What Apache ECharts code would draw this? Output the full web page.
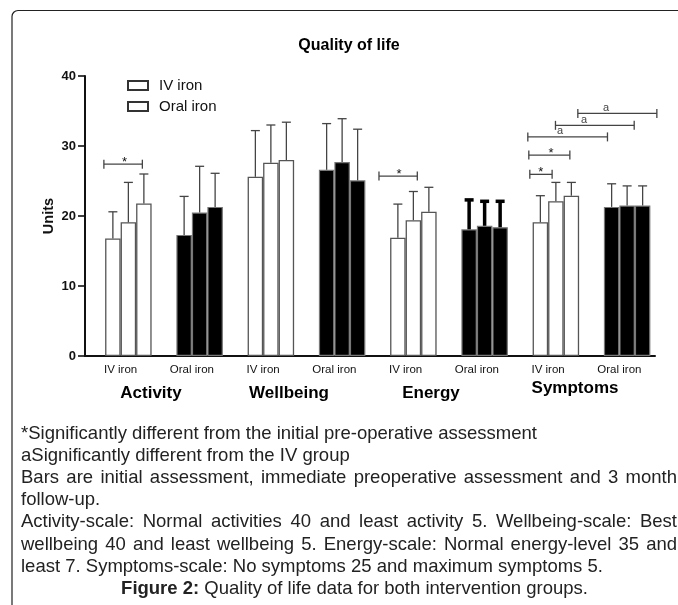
<!DOCTYPE html>
<html>
<head>
<meta charset="utf-8">
<script src="https://cdn.jsdelivr.net/npm/echarts@6/dist/echarts.min.js"></script>
<style>
html,body{margin:0;padding:0;background:#fff;}
#c{width:678px;height:605px;}
</style>
</head>
<body>
<div id="c"></div>
<script>
// ---- data ----
const categories = ['IV iron','Oral iron','IV iron','Oral iron','IV iron','Oral iron','IV iron','Oral iron'];
const domains = ['Activity','Wellbeing','Energy','Symptoms'];
const yTicks = [0,10,20,30,40];
// means: initial, immediate pre-op, 3-month follow-up
const initial  = [16.8, 17.3, 25.6, 26.6, 16.9, 18.1, 19.1, 21.3];
const preop    = [19.1, 20.5, 27.6, 27.7, 19.4, 18.6, 22.1, 21.5];
const followup = [21.8, 21.3, 28.0, 25.1, 20.6, 18.4, 22.9, 21.5];
// standard deviations (upper error bars)
const initialSD  = [3.8, 5.5, 6.6, 6.6, 4.8, 4.2, 3.8, 3.3];
const preopSD    = [5.7, 6.6, 5.4, 6.2, 4.1, 3.5, 2.7, 2.8];
const followupSD = [4.2, 4.8, 5.4, 7.3, 3.5, 3.7, 1.9, 2.8];
// significance brackets: [category, from (cat widths), to (cat widths), value]
const brackets = [
  [0, -0.235, 0.305, 27.4],
  [4, -0.374, 0.164, 25.7],
  [6, -0.257, 0.056, 25.95],
  [6, -0.271, 0.305, 28.7],
  [6, -0.285, 0.833, 31.3],
  [6,  0.103, 1.208, 32.95],
  [6,  0.417, 1.526, 34.65]
];
const bracketLabels = ['*','*','*','*','a','a','a'];
const bracketLabelX = [0.056, -0.094, -0.102, 0.042, 0.168, 0.505, 0.814];
const captionLines = [
  '*Significantly different from the initial pre-operative assessment',
  'aSignificantly different from the IV group',
  'Bars are initial assessment, immediate preoperative assessment and 3 month',
  'follow-up.',
  'Activity-scale: Normal activities 40 and least activity 5. Wellbeing-scale: Best',
  'wellbeing 40 and least wellbeing 5. Energy-scale: Normal energy-level 35 and',
  'least 7. Symptoms-scale: No symptoms 25 and maximum symptoms 5.'
];
const justified = [false,false,true,false,true,true,false];

// ---- drawing ----
const FONT = '"Liberation Sans", Arial, Helvetica, sans-serif';
const BAR_W = 15.5;
const chart = echarts.init(document.getElementById('c'), null, {renderer:'canvas'});

function barData(arr){
  return arr.map((v,i)=>({
    value: v,
    itemStyle: i%2===0
      ? {color:'#fff', borderColor:'#555', borderWidth:1.3}
      : {color:'#000', borderColor:'#777', borderWidth:1.2}
  }));
}
const errData = [];
[[initial,initialSD],[preop,preopSD],[followup,followupSD]].forEach((pair,s)=>{
  pair[0].forEach((m,i)=>errData.push([i, s, m, pair[1][i]]));
});

// caption graphics
const measureCtx = document.createElement('canvas').getContext('2d');
const CAP_SIZE = 18.5;
measureCtx.font = CAP_SIZE + 'px ' + FONT;
const capLeft = 21, capRight = 677, capTop = 434, capStep = 22.1;
const graphics = [];
graphics.push({type:'rect', silent:true, shape:{x:12, y:10.5, width:900, height:900, r:6},
  style:{fill:'none', stroke:'#222', lineWidth:1.2}});
graphics.push({type:'text', x:349, y:46, style:{text:'Quality of life', fontFamily:FONT, fontSize:16, fontWeight:'bold', fill:'#000', align:'center', verticalAlign:'middle'}});
graphics.push({type:'text', x:49, y:216, rotation:Math.PI/2, style:{text:'Units', fontFamily:FONT, fontSize:14.5, fontWeight:'bold', fill:'#111', align:'center', verticalAlign:'middle'}});
const domainPos = [[151,393],[289,393],[431,393],[575,388]];
domains.forEach((d,i)=>graphics.push({type:'text', x:domainPos[i][0], y:domainPos[i][1],
  style:{text:d, fontFamily:FONT, fontSize:17, fontWeight:'bold', fill:'#000', align:'center', verticalAlign:'middle'}}));
captionLines.forEach((line,i)=>{
  const y = capTop + capStep*i;
  const st = {fontFamily:FONT, fontSize:CAP_SIZE, fill:'#222', verticalAlign:'middle', align:'left'};
  if(!justified[i]){
    graphics.push({type:'text', x:capLeft, y:y, style:Object.assign({text:line}, st)});
  } else {
    const words = line.split(' ');
    const widths = words.map(w=>measureCtx.measureText(w).width);
    const total = widths.reduce((a,b)=>a+b,0);
    const gap = (capRight - capLeft - total)/(words.length-1);
    let x = capLeft;
    words.forEach((w,k)=>{
      graphics.push({type:'text', x:x, y:y, style:Object.assign({text:w}, st)});
      x += widths[k] + gap;
    });
  }
});
graphics.push({type:'text', x:354.5, y:capTop+capStep*7, style:{
  text:'{b|Figure 2:} Quality of life data for both intervention groups.',
  fontFamily:FONT, fontSize:CAP_SIZE, fill:'#222', align:'center', verticalAlign:'middle',
  rich:{b:{fontFamily:FONT, fontSize:CAP_SIZE, fontWeight:'bold', fill:'#222'}}}});

const option = {
  animation:false,
  backgroundColor:'#fff',
  grid:{left:85, right:23, top:76, bottom:249, containLabel:false},
  legend:{
    data:['IV iron','Oral iron'], orient:'vertical', left:127, top:78, padding:0,
    itemWidth:20, itemHeight:9, itemGap:6, icon:'rect', selectedMode:false,
    textStyle:{fontFamily:FONT, fontSize:15, color:'#111', padding:[0,0,0,6]}
  },
  xAxis:[
    {type:'category', data:categories, boundaryGap:true,
     axisLine:{lineStyle:{color:'#111', width:2}},
     axisTick:{alignWithLabel:true, length:5, lineStyle:{color:'#111', width:1.5}},
     axisLabel:{fontFamily:FONT, fontSize:11.5, color:'#111', margin:8, interval:0}},
    {type:'category', data:categories, show:false}
  ],
  yAxis:{type:'value', min:yTicks[0], max:yTicks[yTicks.length-1], interval:10,
    axisLine:{show:true, lineStyle:{color:'#111', width:2}},
    axisTick:{show:true, length:7, lineStyle:{color:'#111', width:1.6}},
    axisLabel:{fontFamily:FONT, fontSize:13, fontWeight:'bold', color:'#111', margin:9},
    splitLine:{show:false}},
  series:[
    {name:'pad', type:'bar', barWidth:BAR_W, barGap:'0%', silent:true, data:categories.map(()=>null)},
    {name:'Initial assessment', type:'bar', barWidth:BAR_W, barGap:'0%', data:barData(initial)},
    {name:'Immediate preoperative', type:'bar', barWidth:BAR_W, barGap:'0%', data:barData(preop)},
    {name:'3 month follow-up', type:'bar', barWidth:BAR_W, barGap:'0%', data:barData(followup)},
    {name:'IV iron', type:'bar', xAxisIndex:1, data:[], itemStyle:{color:'#fff', borderColor:'#333', borderWidth:1}},
    {name:'Oral iron', type:'bar', xAxisIndex:1, data:[], itemStyle:{color:'#fff', borderColor:'#333', borderWidth:1}},
    {name:'SD', type:'custom', data:errData, encode:{x:0, y:2}, z:5, silent:true,
     renderItem:function(params, api){
       const cat = api.value(0), slot = api.value(1), mean = api.value(2), sd = api.value(3);
       const p0 = api.coord([cat, mean]), p1 = api.coord([cat, mean+sd]);
       const x = p0[0] + (slot-0.5)*BAR_W;
       const thick = (cat===5);
       const w = thick ? 3.5 : 1.3, c = thick ? '#000' : '#444', hw = 4.5;
       return {type:'group', children:[
         {type:'line', shape:{x1:x, y1:p0[1], x2:x, y2:p1[1]}, style:{stroke:c, lineWidth:w}},
         {type:'line', shape:{x1:x-hw, y1:p1[1], x2:x+hw, y2:p1[1]}, style:{stroke:c, lineWidth:w}}
       ]};
     }},
    {name:'sig', type:'custom', data:brackets, encode:{x:0, y:3}, z:6, silent:true,
     renderItem:function(params, api){
       const cat = api.value(0);
       const c = api.coord([cat, api.value(3)]);
       const cw = api.size([1,0])[0];
       const x1 = c[0] + api.value(1)*cw, x2 = c[0] + api.value(2)*cw, y = c[1];
       const lab = bracketLabels[params.dataIndex];
       const lx = c[0] + bracketLabelX[params.dataIndex]*cw;
       const isStar = lab === '*';
       const col = '#444';
       return {type:'group', children:[
         {type:'line', shape:{x1:x1, y1:y, x2:x2, y2:y}, style:{stroke:col, lineWidth:1.3}},
         {type:'line', shape:{x1:x1, y1:y-4.5, x2:x1, y2:y+4.5}, style:{stroke:col, lineWidth:1.3}},
         {type:'line', shape:{x1:x2, y1:y-4.5, x2:x2, y2:y+4.5}, style:{stroke:col, lineWidth:1.3}},
         {type:'text', x:lx, y: isStar ? y-2 : y-5.5, style:{text:lab, fontFamily:FONT,
           fontSize: isStar ? 13 : 11, fill: isStar ? '#111' : '#444', align:'center', verticalAlign:'middle'}}
       ]};
     }}
  ],
  graphic: graphics
};
chart.setOption(option);
</script>
</body>
</html>
